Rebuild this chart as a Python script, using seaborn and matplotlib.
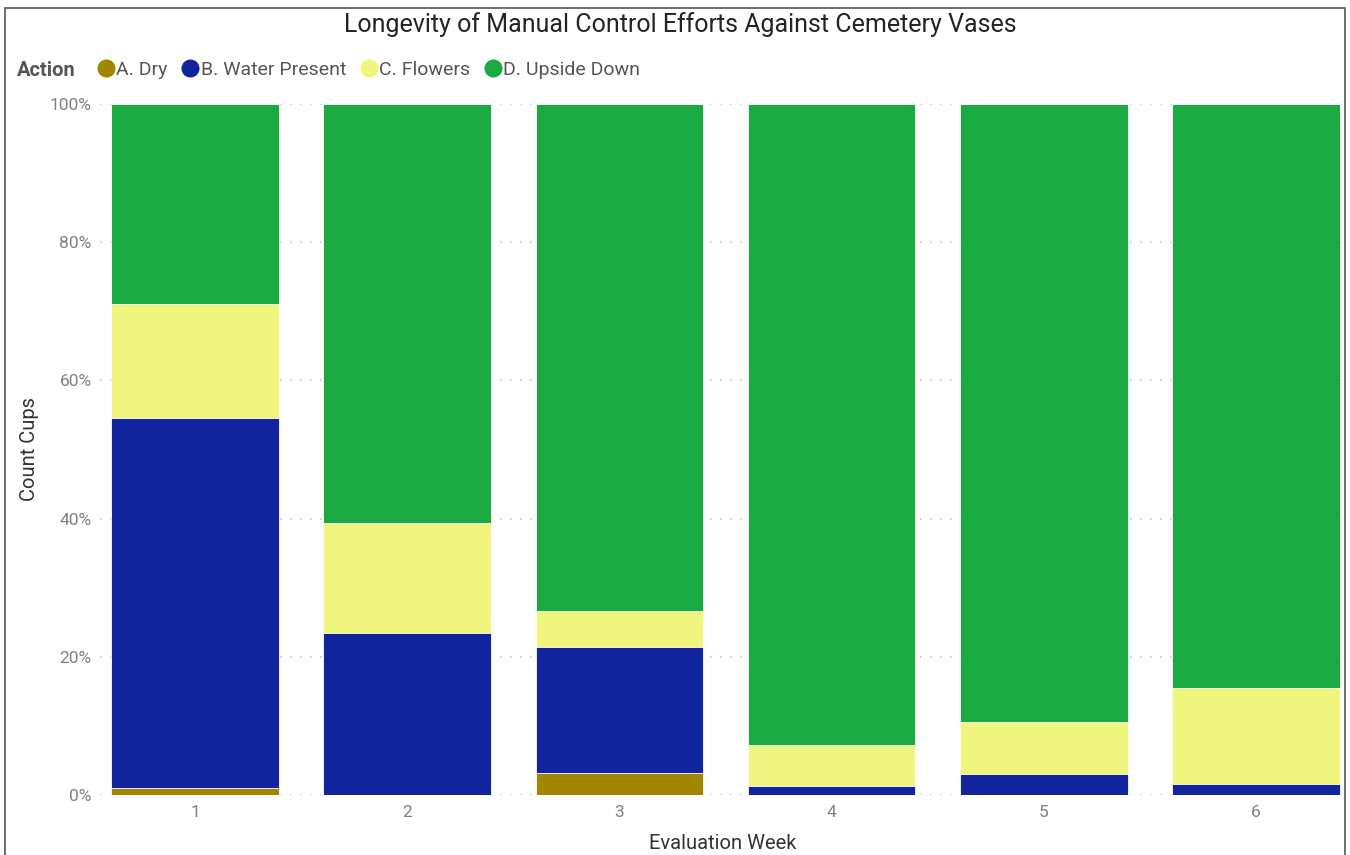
import numpy as np
import pandas as pd
import matplotlib
matplotlib.use("Agg")
import matplotlib.pyplot as plt
from matplotlib.lines import Line2D
from matplotlib.patches import Rectangle
import seaborn as sns

# Share of cups (%) in each state per evaluation week
weeks = ["1", "2", "3", "4", "5", "6"]
dry = [1.0, 0.0, 3.2, 0.0, 0.0, 0.0]
water_present = [53.6, 23.4, 18.2, 1.3, 3.0, 1.6]
flowers = [16.5, 16.0, 5.2, 5.9, 7.6, 13.9]
upside_down = [28.9, 60.6, 73.4, 92.8, 89.4, 84.5]

actions = ["A. Dry", "B. Water Present", "C. Flowers", "D. Upside Down"]
colors = ["#A38600", "#12239E", "#F0F57E", "#1BAA42"]

df = pd.DataFrame({
    "week": weeks,
    "A. Dry": dry,
    "B. Water Present": water_present,
    "C. Flowers": flowers,
    "D. Upside Down": upside_down,
})
vals = df[actions].to_numpy(dtype=float)
shares = vals / vals.sum(axis=1, keepdims=True) * 100
cum = np.cumsum(shares, axis=1)

sns.set_theme(style="white")
plt.rcParams["font.family"] = ["Roboto", "DejaVu Sans"]

fig = plt.figure(figsize=(13.5, 8.55), dpi=100)
ax = fig.add_axes([100 / 1350, 60 / 855, 1245 / 1350, 691 / 855])

# Stacked bars: draw cumulative totals from the top segment down
for i in range(len(actions) - 1, -1, -1):
    sns.barplot(x=df["week"], y=cum[:, i], color=colors[i], saturation=1,
                width=0.79, ax=ax, linewidth=0.6, edgecolor="#ffffff", zorder=2)

ax.set_xlim(-0.448, 5.42)
ax.set_ylim(0, 100)
ax.set_yticks([0, 20, 40, 60, 80, 100])
ax.set_yticklabels([f"{t}%" for t in [0, 20, 40, 60, 80, 100]])
ax.yaxis.grid(True, color="#c8c8c8", linestyle=(0, (1, 5)), linewidth=1.2, zorder=0)
ax.set_axisbelow(True)
for s in ax.spines.values():
    s.set_visible(False)
ax.tick_params(axis="both", length=0, labelsize=12.5, colors="#808080")
ax.tick_params(axis="y", pad=6)
ax.tick_params(axis="x", pad=7)

ax.set_xlabel("Evaluation Week", fontsize=14.5, color="#333333", labelpad=10)
ax.set_ylabel("Count Cups", fontsize=14.5, color="#333333", labelpad=8)

fig.text(680 / 1350, 1 - 25 / 855, "Longevity of Manual Control Efforts Against Cemetery Vases",
         ha="center", va="center", fontsize=18, color="#252423")

fig.text(17 / 1350, 1 - 70 / 855, "Action", ha="left", va="center",
         fontsize=14.5, fontweight="bold", color="#555555")
handles = [Line2D([0], [0], marker="o", linestyle="", markersize=12,
                  markerfacecolor=c, markeredgecolor=c) for c in colors]
leg = fig.legend(handles, actions, loc="center left",
                 bbox_to_anchor=(95 / 1350, 1 - 70 / 855), ncol=4, frameon=False,
                 fontsize=14, handletextpad=0.0, columnspacing=0.6,
                 handlelength=1.1, borderaxespad=0, borderpad=0)
for t in leg.get_texts():
    t.set_color("#555555")

# Thin frame around the visual
fig.patches.append(Rectangle((5 / 1350, -0.01), 1340 / 1350, 1 - 8 / 855 + 0.01,
                             transform=fig.transFigure, fill=False,
                             edgecolor="#555555", linewidth=1.2))

fig.savefig("out.png", dpi=100, facecolor="white")
